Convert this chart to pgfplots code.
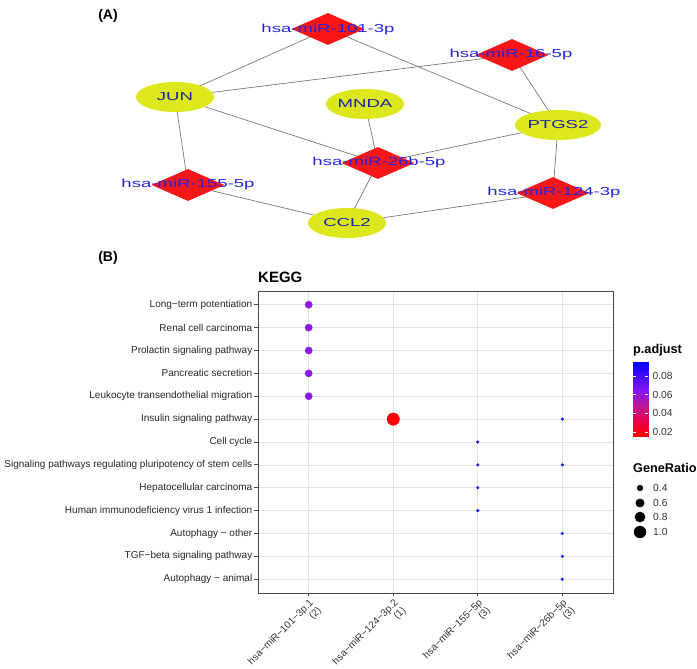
\documentclass[border=0pt]{standalone}
\usepackage{fontspec}
\setmainfont{Liberation Sans}
\newfontfamily\netfont[FakeStretch=1.6]{Liberation Sans}
\usepackage{pgfplots}
\pgfplotsset{compat=1.18}
\usetikzlibrary{shapes.geometric}
\definecolor{nodeyel}{RGB}{220,232,28}
\definecolor{genelab}{RGB}{30,35,160}
\definecolor{mirlab}{RGB}{35,35,225}
\definecolor{mirred}{RGB}{250,22,22}
\definecolor{edgec}{RGB}{120,120,120}
\definecolor{purpdot}{RGB}{140,25,235}
\definecolor{reddot}{RGB}{255,0,0}
\definecolor{bluedot}{RGB}{20,20,245}
\definecolor{gridc}{RGB}{222,228,232}
\definecolor{framec}{RGB}{70,70,70}
\begin{document}
\begin{tikzpicture}
\useasboundingbox (0,0) rectangle (697pt,669pt);
% ---------- Panel A (network) and legend items, in pixel coordinates ----------
\begin{axis}[at={(0pt,0pt)}, anchor=south west, width=697pt, height=669pt, scale only axis,
  xmin=0, xmax=697, ymin=0, ymax=669, y dir=reverse, hide axis, clip=false,
  /pgf/number format/assume math mode=true]
% edges
\addplot[edgec, line width=0.7pt] coordinates {(328,29) (175,97)};
\addplot[edgec, line width=0.7pt] coordinates {(328,29) (558,125)};
\addplot[edgec, line width=0.7pt] coordinates {(512,55) (175,97)};
\addplot[edgec, line width=0.7pt] coordinates {(512,55) (558,125)};
\addplot[edgec, line width=0.7pt] coordinates {(175,97) (378,163)};
\addplot[edgec, line width=0.7pt] coordinates {(175,97) (188,185)};
\addplot[edgec, line width=0.7pt] coordinates {(365,104) (378,163)};
\addplot[edgec, line width=0.7pt] coordinates {(558,125) (378,163)};
\addplot[edgec, line width=0.7pt] coordinates {(558,125) (553,193)};
\addplot[edgec, line width=0.7pt] coordinates {(378,163) (347,223)};
\addplot[edgec, line width=0.7pt] coordinates {(188,185) (347,223)};
\addplot[edgec, line width=0.7pt] coordinates {(553,193) (347,223)};
% gene nodes (ellipses)
\addplot[only marks, mark=none, point meta=explicit symbolic, nodes near coords,
  every node near coord/.style={anchor=center, ellipse, fill=nodeyel, minimum width=78pt,
    minimum height=30pt, inner sep=0pt, text=genelab, font=\netfont\fontsize{11.6pt}{12pt}\selectfont}]
  coordinates {(175,97)[JUN] (365,104)[MNDA] (558,125)[PTGS2] (347,223)[CCL2]};
% miRNA nodes (diamonds)
\addplot[only marks, mark=none, nodes near coords={},
  every node near coord/.style={anchor=center, diamond, fill=mirred, aspect=2.3,
    minimum width=73pt, minimum height=32pt, inner sep=0pt}]
  coordinates {(328,29) (512,55) (378,163) (188,185) (553,193)};
\addplot[only marks, mark=none, point meta=explicit symbolic, nodes near coords,
  every node near coord/.style={anchor=center, inner sep=0pt, text=mirlab,
    font=\netfont\fontsize{11.6pt}{12pt}\selectfont}]
  coordinates {(328,30)[hsa-miR-101-3p] (511,55)[hsa-miR-16-5p] (379,163)[hsa-miR-26b-5p]
               (188,185)[hsa-miR-155-5p] (554,193)[hsa-miR-124-3p]};
% GeneRatio legend dots
\addplot[only marks, mark=*, mark size=2.9pt, black] coordinates {(640,488)};
\addplot[only marks, mark=*, mark size=4.2pt, black] coordinates {(640,503)};
\addplot[only marks, mark=*, mark size=5.1pt, black] coordinates {(640,517)};
\addplot[only marks, mark=*, mark size=6.0pt, black] coordinates {(640,532)};
% texts
\node[font=\bfseries\fontsize{14pt}{16pt}\selectfont] at (axis cs:108,16) {(A)};
\node[font=\bfseries\fontsize{14pt}{16pt}\selectfont] at (axis cs:108,258) {(B)};
\node[font=\bfseries\fontsize{15pt}{17pt}\selectfont, anchor=west, inner sep=0pt] at (axis cs:258,277) {KEGG};
\node[font=\bfseries\fontsize{12.7pt}{14pt}\selectfont, anchor=west, inner sep=0pt] at (axis cs:633,350) {p.adjust};
\node[font=\bfseries\fontsize{12.7pt}{14pt}\selectfont, anchor=west, inner sep=0pt] at (axis cs:633,468) {GeneRatio};
\node[font=\fontsize{10.3pt}{12pt}\selectfont, anchor=west, inner sep=0pt, text=black!80] at (axis cs:653,488) {0.4};
\node[font=\fontsize{10.3pt}{12pt}\selectfont, anchor=west, inner sep=0pt, text=black!80] at (axis cs:653,503) {0.6};
\node[font=\fontsize{10.3pt}{12pt}\selectfont, anchor=west, inner sep=0pt, text=black!80] at (axis cs:653,517) {0.8};
\node[font=\fontsize{10.3pt}{12pt}\selectfont, anchor=west, inner sep=0pt, text=black!80] at (axis cs:653,532) {1.0};
\end{axis}
% ---------- Panel B (dot plot) ----------
\begin{axis}[at={(258pt,76pt)}, anchor=south west, width=355pt, height=302pt, scale only axis,
  xmin=0.4, xmax=4.6, ymin=0.4, ymax=13.6,
  xtick={1,2,3,4}, ytick={1,2,3,4,5,6,7,8,9,10,11,12,13},
  xticklabels={{hsa−miR−101−3p.1\\(2)},{hsa−miR−124−3p.2\\(1)},{hsa−miR−155−5p\\(3)},{hsa−miR−26b−5p\\(3)}},
  yticklabels={{Autophagy − animal},{TGF−beta signaling pathway},{Autophagy − other},
    {Human immunodeficiency virus 1 infection},{Hepatocellular carcinoma},
    {Signaling pathways regulating pluripotency of stem cells},{Cell cycle},
    {Insulin signaling pathway},{Leukocyte transendothelial migration},
    {Pancreatic secretion},{Prolactin signaling pathway},{Renal cell carcinoma},
    {Long−term potentiation}},
  xticklabel style={rotate=45, anchor=north east, align=right, inner sep=1pt,
    font=\fontsize{10pt}{11pt}\selectfont, text=black!80},
  yticklabel style={font=\fontsize{10pt}{11pt}\selectfont, text=black!85, inner sep=2pt},
  grid=major, major grid style={gridc, line width=0.7pt},
  axis line style={framec, line width=0.8pt},
  tick style={framec, line width=0.8pt}, tick align=outside, major tick length=3.5pt,
  xtick pos=bottom, ytick pos=left,
  /pgf/number format/assume math mode=true]
\addplot[only marks, mark=*, mark size=3.6pt, color=purpdot] coordinates {(1,9) (1,10) (1,11) (1,12) (1,13)};
\addplot[only marks, mark=*, mark size=6.2pt, color=reddot] coordinates {(2,8)};
\addplot[only marks, mark=*, mark size=1.35pt, color=bluedot] coordinates {(3,7) (3,6) (3,5) (3,4) (4,8) (4,6) (4,3) (4,2) (4,1)};
\end{axis}
% ---------- Colorbar ----------
\begin{axis}[at={(633pt,232pt)}, anchor=south west, width=15pt, height=75pt, scale only axis,
  xmin=0, xmax=1, ymin=0.0147, ymax=0.095, axis on top,
  axis line style={draw=none}, xtick=\empty, ytick={0.02,0.04,0.06,0.08},
  scaled y ticks=false,
  yticklabel pos=right, ytick pos=both, tick align=inside, major tick length=3pt,
  tick style={white, line width=0.6pt},
  yticklabel style={font=\fontsize{10.3pt}{12pt}\selectfont, text=black!80, xshift=1pt},
  /pgf/number format/fixed, /pgf/number format/fixed zerofill, /pgf/number format/precision=2,
  /pgf/number format/assume math mode=true,
  colormap={padj}{rgb255=(255,0,0) rgb255=(232,0,70) rgb255=(192,24,143) rgb255=(140,20,236) rgb255=(70,15,250) rgb255=(0,0,255)},
  point meta min=0.0147, point meta max=0.095]
\addplot[patch, patch type=rectangle, shader=interp, point meta=y] coordinates {(0,0.0147) (1,0.0147) (1,0.095) (0,0.095)};
\end{axis}
\end{tikzpicture}
\end{document}
